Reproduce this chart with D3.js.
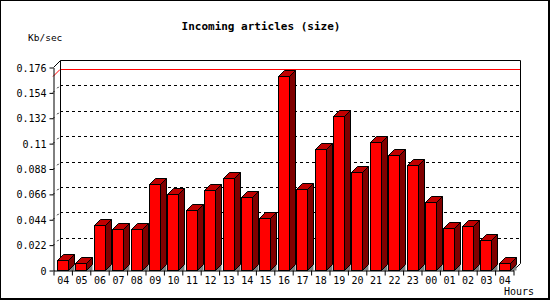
<!DOCTYPE html>
<html><head><meta charset="utf-8">
<script src="https://cdn.jsdelivr.net/npm/d3@7"></script>
<style>
html,body{margin:0;padding:0;background:#fff;}
svg{display:block;}
text{font-family:"DejaVu Sans Mono",monospace;fill:#000;}
</style></head>
<body>
<svg id="chart" width="550" height="300"></svg>
<script>
const hours = ["04","05","06","07","08","09","10","11","12","13","14","15","16","17","18","19","20","21","22","23","00","01","02","03","04"];
const sizeKbSec = [0.0087,0.0058,0.039,0.0355,0.0355,0.0746,0.066,0.052,0.0694,0.0795,0.063,0.0448,0.1682,0.070,0.1046,0.1335,0.0847,0.1112,0.0997,0.091,0.0592,0.0361,0.0379,0.0257,0.0058];
const yTickValues = [0,0.022,0.044,0.066,0.088,0.11,0.132,0.154,0.176];
const yTickLabels = ["0","0.022","0.044","0.066","0.088","0.11","0.132","0.154","0.176"];
const title = "Incoming articles (size)";
const yTitle = "Kb/sec";
const xTitle = "Hours";

(function () {
const svg = d3.select("#chart");
const W = 550, H = 300;
const pLeft = 53, pRight = 513, pBottom = 270, pTop = 67;
const D = 7;   // wall depth
const d = 6;   // bar depth

const x = d3.scaleLinear().domain([0, hours.length]).range([pLeft, pRight]);
const y = d3.scaleLinear().domain([0, 0.176]).range([pBottom, pTop]);

// outer border
svg.append("rect").attr("x",0.5).attr("y",0.5).attr("width",W-1).attr("height",H-1)
  .attr("fill","none").attr("stroke","#000");
svg.append("line").attr("x1",548.5).attr("x2",548.5).attr("y1",0).attr("y2",300).attr("stroke","#000");
svg.append("line").attr("x1",0).attr("x2",550).attr("y1",298.5).attr("y2",298.5).attr("stroke","#000");

// titles
svg.append("text").attr("x",261).attr("y",29.5).attr("text-anchor","middle")
  .attr("font-size","11px").attr("font-weight","bold").text(title);
svg.append("text").attr("x",28).attr("y",41).attr("font-size","9.5px").text(yTitle);
svg.append("text").attr("x",534).attr("y",295).attr("text-anchor","end").attr("font-size","10px").text(xTitle);

// grid lines (back wall + side wall)
const grid = svg.append("g");
yTickValues.slice(1, -1).forEach(v => {
  const yy = Math.round(y(v)) + 0.5;
  grid.append("line").attr("x1", pLeft + D).attr("x2", pRight + D).attr("y1", yy - D).attr("y2", yy - D)
    .attr("stroke","#000").attr("stroke-dasharray","3,3");
  grid.append("line").attr("x1", pLeft).attr("x2", pLeft + D).attr("y1", yy).attr("y2", yy - D)
    .attr("stroke","#000").attr("stroke-dasharray","2,4");
});

// max line
const maxV = d3.max(sizeKbSec);
const ym = Math.round(y(maxV)) + 0.5;
svg.append("line").attr("x1", pLeft + D).attr("x2", pRight + D).attr("y1", ym - D).attr("y2", ym - D).attr("stroke","#f00");
svg.append("line").attr("x1", pLeft).attr("x2", pLeft + D).attr("y1", ym).attr("y2", ym - D).attr("stroke","#f00");

// walls
const yt = Math.round(y(0.176)) + 0.5;
const yb = pBottom + 0.5;
const frame = svg.append("g").attr("stroke","#000").attr("fill","none");
frame.append("path").attr("d",
  `M${pLeft+0.5},${yt} L${pLeft+D+0.5},${yt-D} L${pRight+D+0.5},${yt-D} L${pRight+D+0.5},${yb-D} L${pRight+0.5},${yb}`);
frame.append("line").attr("x1",pLeft+D+0.5).attr("x2",pLeft+D+0.5).attr("y1",yt-D).attr("y2",yb-D);

// bars
const bars = svg.append("g");
sizeKbSec.forEach((v, i) => {
  const x0 = Math.round(x(i) + 4) + 0.5;
  const x1 = x0 + 11;
  const ty = Math.round(y(v)) + 0.5;
  bars.append("path").attr("d", `M${x1},${yb} L${x1+d},${yb-d} L${x1+d},${yb} Z`)
    .attr("fill","#808080").attr("stroke","none");
  bars.append("path").attr("d", `M${x1},${ty} L${x1+d},${ty-d} L${x1+d},${yb-d} L${x1},${yb} Z`)
    .attr("fill","#800000").attr("stroke","#000");
  bars.append("path").attr("d", `M${x0},${ty} L${x0+d},${ty-d} L${x1+d},${ty-d} L${x1},${ty} Z`)
    .attr("fill","#c00000").attr("stroke","#000");
  bars.append("rect").attr("x", x0).attr("y", ty).attr("width", 11).attr("height", yb - ty)
    .attr("fill","#ff0000").attr("stroke","#000");
});

// y axis
const yAxis = d3.axisLeft(y).tickValues(yTickValues)
  .tickFormat((v,i) => yTickLabels[i]).tickSize(4).tickSizeOuter(0).tickPadding(3);
const gy = svg.append("g").attr("transform", `translate(${pLeft+0.5},0.5)`).call(yAxis);
gy.selectAll("text").attr("font-family","DejaVu Sans Mono, monospace").attr("font-size","10px").attr("dy","0.36em");
gy.select(".domain").attr("stroke","#000");

// x axis: ticks at band boundaries
const xTicks = d3.axisBottom(x).tickValues(d3.range(0, hours.length + 1)).tickFormat("").tickSize(5).tickSizeOuter(0);
const gx = svg.append("g").attr("transform", `translate(0.5,${pBottom+0.5})`).call(xTicks);
gx.select(".domain").attr("stroke","#000");
const xLab = d3.axisBottom(x).tickValues(d3.range(0, hours.length).map(i => i + 0.5))
  .tickFormat(v => hours[Math.floor(v)]).tickSize(0).tickPadding(6);
const gxl = svg.append("g").attr("transform", `translate(0.5,${pBottom+0.5})`).call(xLab);
gxl.select(".domain").remove();
gxl.selectAll("text").attr("font-family","DejaVu Sans Mono, monospace").attr("font-size","10px");
})();
</script>
</body></html>
